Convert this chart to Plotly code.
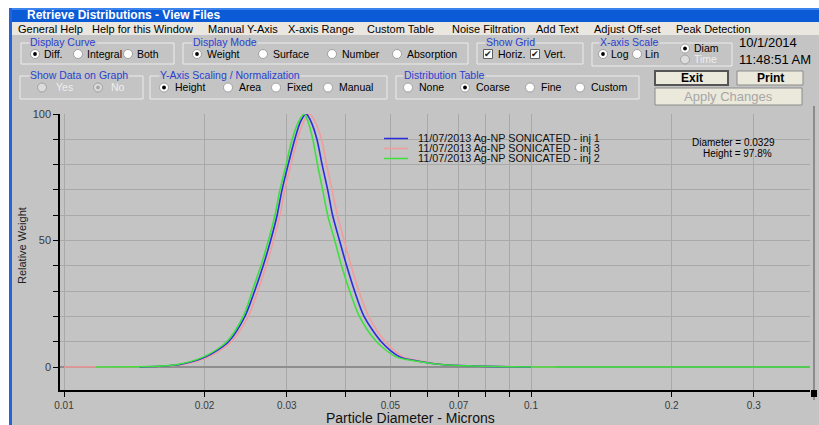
import plotly.graph_objects as go

# ---------------- data ----------------
series_names = ["11/07/2013 Ag-NP SONICATED - inj 1",
                "11/07/2013 Ag-NP SONICATED - inj 3",
                "11/07/2013 Ag-NP SONICATED - inj 2"]

diam_inj1 = [0.0145, 0.0160, 0.0177, 0.0201, 0.0225, 0.0244, 0.0256, 0.0267, 0.0277, 0.0286,
             0.0293, 0.0302, 0.0312, 0.0321, 0.0330, 0.0338, 0.0348, 0.0357, 0.0367, 0.0376,
             0.0389, 0.0403, 0.0419, 0.0439, 0.0478, 0.0524, 0.0579, 0.0650, 0.0750, 0.0850,
             0.1000]
weight_inj1 = [0.0, 0.3, 1.0, 4.0, 10, 20, 30, 40, 50, 60,
               70, 80, 90, 97, 100, 97, 90, 80, 70, 60,
               50, 40, 30, 20, 10, 4.0, 2.2, 0.9, 0.4, 0.15,
               0.0]

diam_inj3 = [0.0100, 0.0140, 0.0162, 0.0180, 0.0204, 0.0228, 0.0248, 0.0260, 0.0271, 0.0281,
             0.0290, 0.0297, 0.0306, 0.0316, 0.0326, 0.0335, 0.0345, 0.0356, 0.0365, 0.0375,
             0.0385, 0.0398, 0.0412, 0.0428, 0.0449, 0.0488, 0.0533, 0.0588, 0.0660, 0.0750,
             0.0900, 0.1130]
weight_inj3 = [0.0, 0.1, 0.3, 1.0, 4.0, 10, 20, 30, 40, 50,
               60, 70, 80, 90, 97, 100, 97, 90, 80, 70,
               60, 50, 40, 30, 20, 10, 4.0, 2.2, 0.9, 0.4,
               0.1, 0.0]

diam_inj2 = [0.0117, 0.0140, 0.0158, 0.0175, 0.0199, 0.0223, 0.0242, 0.0253, 0.0264, 0.0274,
             0.0283, 0.0290, 0.0299, 0.0308, 0.0318, 0.0327, 0.0333, 0.0341, 0.0349, 0.0358,
             0.0367, 0.0380, 0.0393, 0.0409, 0.0429, 0.0467, 0.0515, 0.0575, 0.0650, 0.0750,
             0.0900, 0.1200, 0.2000, 0.4000]
weight_inj2 = [0.0, 0.1, 0.3, 1.0, 4.0, 10, 20, 30, 40, 50,
               60, 70, 80, 90, 97, 100, 97, 90, 80, 70,
               60, 50, 40, 30, 20, 10, 4.0, 2.2, 0.9, 0.4,
               0.1, 0.0, 0.0, 0.0]

x_tick_vals = [0.01, 0.02, 0.03, 0.04, 0.05, 0.06, 0.07, 0.08, 0.09, 0.1, 0.2, 0.3]
x_tick_text = ["0.01", "0.02", "0.03", "", "0.05", "", "0.07", "", "", "0.1", "0.2", "0.3"]
y_tick_vals = [0, 10, 20, 30, 40, 50, 60, 70, 80, 90, 100]
y_tick_text = ["0", "", "", "", "", "50", "", "", "", "", "100"]

peak_diameter = 0.0329
peak_height = 97.8
date_text = "10/1/2014"
time_text = "11:48:51 AM"

# ---------------- geometry helpers ----------------
W, H = 819, 425
L, R, T, B = 60, 810, 114, 390
FONT = "Liberation Sans, Arial, sans-serif"
BG = "#c4c4c4"


def X(px):
    return (px - L) / (R - L)


def Y(py):
    return (B - py) / (B - T)


shapes = []
annots = []


def rect(x0, y0, x1, y1, fill=None, line=None, lw=1):
    shapes.append(dict(type="rect", xref="paper", yref="paper",
                       x0=X(x0), x1=X(x1), y0=Y(y1), y1=Y(y0),
                       fillcolor=fill if fill else "rgba(0,0,0,0)",
                       line=dict(color=line if line else "rgba(0,0,0,0)", width=lw if line else 0),
                       layer="above"))


def seg(x0, y0, x1, y1, color, lw=1):
    shapes.append(dict(type="line", xref="paper", yref="paper",
                       x0=X(x0), x1=X(x1), y0=Y(y0), y1=Y(y1),
                       line=dict(color=color, width=lw), layer="above"))


def circ(cx, cy, r, fill, line=None, lw=1):
    shapes.append(dict(type="circle", xref="paper", yref="paper",
                       x0=X(cx - r), x1=X(cx + r), y0=Y(cy + r), y1=Y(cy - r),
                       fillcolor=fill,
                       line=dict(color=line if line else fill, width=lw if line else 0),
                       layer="above"))


def text(px, py, s, size=10.5, color="black", anchor="left", bold=False, bg=None, angle=0):
    d = dict(x=X(px), y=Y(py), xref="paper", yref="paper", text=("<b>%s</b>" % s) if bold else s,
             showarrow=False, xanchor=anchor, yanchor="middle", borderpad=0,
             font=dict(family=FONT, size=size, color=color), textangle=angle)
    if bg:
        d["bgcolor"] = bg
    annots.append(d)


def radio(cx, cy, on=False, disabled=False):
    circ(cx, cy, 4.5, "#dcdcdc" if disabled else "white", "#a0a0a0", 1)
    if on:
        circ(cx, cy, 1.9, "#a8a8a8" if disabled else "black")


def check(cx, cy):
    rect(cx - 4.5, cy - 4.5, cx + 4.5, cy + 4.5, "white", "#606060", 1)
    text(cx, cy, "✔", size=9, color="#202020", anchor="center")


def group(x0, y0, x1, y1, title, tx):
    rect(x0, y0, x1, y1, None, "#ececec", 1)
    text(tx, y0 - 1, title, size=10.5, color="#2a3fd0", bg=BG)


def button(x0, y0, x1, y1, label, color="black", bold=True, size=12, default=False):
    rect(x0, y0, x1, y1, "#ebe9dc", "#555555" if default else "#8a8a8a", 2 if default else 1)
    text((x0 + x1) / 2, (y0 + y1) / 2, label, size=size, color=color, anchor="center", bold=bold)


# ---------------- window chrome ----------------
rect(0, 0, W, 8, "white")
rect(0, 0, 9, H, "white")
rect(9, 8, W, 22, "#0c5bd6")
rect(9, 8, W, 10, "#3b84ee")
rect(9, 8, 12, H, "#2463da")
text(26, 15, "Retrieve Distributions - View Files", size=12, color="white", bold=True)
rect(12, 22, W, 35, "#e9e7df")

menu_items = [("General Help", 17), ("Help for this Window", 91), ("Manual Y-Axis", 207),
              ("X-axis Range", 287), ("Custom Table", 366), ("Noise Filtration", 451),
              ("Add Text", 535), ("Adjust Off-set", 593), ("Peak Detection", 675)]
for lab, px in menu_items:
    text(px, 29, lab, size=11)

# row 1 groups
R1 = 54
group(21, 43, 174, 64, "Display Curve", 29)
for lab, cx, on in [("Diff.", 35, True), ("Integral", 78, False), ("Both", 128, False)]:
    radio(cx, R1, on)
    text(cx + 8, R1, lab)
group(183, 43, 468, 64, "Display Mode", 192)
for lab, cx, on in [("Weight", 197, True), ("Surface", 263, False), ("Number", 332, False),
                    ("Absorption", 397, False)]:
    radio(cx, R1, on)
    text(cx + 9, R1, lab)
group(477, 43, 583, 64, "Show Grid", 485)
check(488, R1)
text(497, R1, "Horiz.")
check(535, R1)
text(543, R1, "Vert.")
group(592, 43, 732, 66, "X-axis Scale", 599)
radio(603, R1, True)
text(610, R1, "Log")
radio(637, R1, False)
text(644, R1, "Lin")
radio(685, 48.5, True)
text(693, 48.5, "Diam")
radio(685, 59.5, False, disabled=True)
text(693, 59.5, "Time", color="#eeeeee")
text(738, 43, date_text, size=13)
text(738, 59, time_text, size=13)

# row 2 groups
R2 = 87.5
group(20, 76, 143, 99, "Show Data on Graph", 29)
radio(42, R2, False, disabled=True)
text(55, R2, "Yes", color="#eeeeee")
radio(98, R2, True, disabled=True)
text(110, R2, "No", color="#eeeeee")
group(150, 76, 387, 99, "Y-Axis Scaling / Normalization", 159)
for lab, cx, on in [("Height", 164, True), ("Area", 228, False), ("Fixed", 276, False),
                    ("Manual", 328, False)]:
    radio(cx, R2, on)
    text(cx + 10, R2, lab)
group(396, 76, 639, 99, "Distribution Table", 403)
for lab, cx, on in [("None", 408, False), ("Coarse", 465, True), ("Fine", 530, False),
                    ("Custom", 580, False)]:
    radio(cx, R2, on)
    text(cx + 10, R2, lab)

button(655, 71, 728, 85, "Exit", default=True)
button(737, 71, 803, 85, "Print")
button(655, 88, 802, 105, "Apply Changes", color="#a6a6a6", bold=False, size=13)

# plot decorations
seg(814, 106, 814, 400, "#8c8c8c", 2)
rect(811, 390, 817, 397, "black")

# manual legend
leg_colors = ["#2b2be0", "#f29c9c", "#3ee03e"]
for i, (nm, col) in enumerate(zip(series_names, leg_colors)):
    py = 138 + 10 * i
    seg(384, py + 0.5, 408, py + 0.5, col, 1.5)
    text(417, py, nm, size=10.8, color="#111111")

text(776, 142, "Diameter = %.4f" % peak_diameter, size=10, anchor="right")
text(773, 153, "Height = %.1f%%" % peak_height, size=10, anchor="right")

text(22, 246, "Relative Weight", size=11, color="#222222", anchor="center", angle=-90)
text(410, 418, "Particle Diameter - Microns", size=14, color="#111111", anchor="center")

# ---------------- traces ----------------
fig = go.Figure()
for xs, ys, col in [(diam_inj3, weight_inj3, leg_colors[1]),
                    (diam_inj1, weight_inj1, leg_colors[0]),
                    (diam_inj2, weight_inj2, leg_colors[2])]:
    fig.add_trace(go.Scatter(x=xs, y=ys, mode="lines",
                             line=dict(color=col, width=1.6, shape="spline", smoothing=0.8),
                             showlegend=False, hoverinfo="skip"))

x_lo = -2 - 4 / 467
x_hi = -2 + (R - 64) / 467
y_lo = -(B - 367) / 2.53
fig.update_layout(
    width=W, height=H,
    margin=dict(l=L, r=W - R, t=T, b=H - B, pad=0),
    paper_bgcolor=BG, plot_bgcolor=BG,
    showlegend=False,
    shapes=shapes, annotations=annots,
    xaxis=dict(type="log", range=[x_lo, x_hi], tickvals=x_tick_vals, ticktext=x_tick_text,
               showgrid=True, gridcolor="#a9a9a9", gridwidth=1,
               showline=True, linecolor="black", linewidth=1.5,
               ticks="outside", ticklen=5, tickcolor="black", tickwidth=1,
               tickfont=dict(family=FONT, size=10, color="#3a3a3a"), zeroline=False),
    yaxis=dict(range=[y_lo, 100], tickvals=y_tick_vals, ticktext=y_tick_text,
               showgrid=True, gridcolor="#a9a9a9", gridwidth=1,
               showline=True, linecolor="black", linewidth=1.5,
               ticks="outside", ticklen=5, tickcolor="black", tickwidth=1,
               tickfont=dict(family=FONT, size=11, color="#3a3a3a"),
               zeroline=True, zerolinecolor="#8e8e8e", zerolinewidth=1.5),
)
fig.write_html("out.html")
